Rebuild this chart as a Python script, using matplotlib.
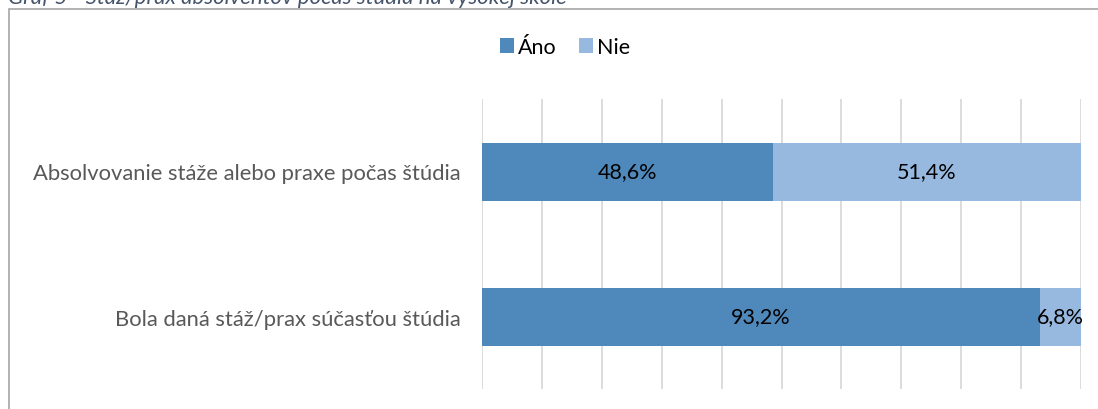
import matplotlib
matplotlib.use("Agg")
import matplotlib.pyplot as plt
from matplotlib.patches import Rectangle
import numpy as np

categories = ["Absolvovanie stáže alebo praxe počas štúdia", "Bola daná stáž/prax súčasťou štúdia"]
ano = [48.6, 93.2]
nie = [51.4, 6.8]
series_names = ["Áno", "Nie"]
caption = "Graf 5 - Stáž/prax absolventov počas štúdia na vysokej škole"

c_ano = "#4f88bb"
c_nie = "#97b9df"

plt.rcParams['font.family'] = ['Lato', 'DejaVu Sans']

W, H = 1098, 410
fig = plt.figure(figsize=(W/100, H/100), dpi=100)

# chart frame
fig.patches.append(Rectangle((9/W, -0.1), 1.2, 1 - 10/H + 0.1, transform=fig.transFigure,
                             facecolor="white", edgecolor="#a6a6a6", linewidth=1.2, zorder=-5))
fig.text(8/W, 1 - 4/H, caption, transform=fig.transFigure, fontsize=16, style='italic',
         color="#44546a", va='baseline', ha='left')

ax = fig.add_axes([482/W, 1 - 390/H, (1081-482)/W, (390-100)/H])
ax.set_zorder(2)
ax.set_facecolor('none')
y = np.arange(len(categories))
b1 = ax.barh(y, ano, height=0.4, color=c_ano, label=series_names[0], zorder=2)
b2 = ax.barh(y, nie, left=ano, height=0.4, color=c_nie, label=series_names[1], zorder=2)

for i in range(len(categories)):
    ax.text(ano[i]/2, y[i], f"{ano[i]:.1f}%".replace('.', ','), ha='center', va='center',
            fontsize=15.5, color='#000000', zorder=3)
    ax.text(ano[i] + nie[i]/2, y[i], f"{nie[i]:.1f}%".replace('.', ','), ha='center', va='center',
            fontsize=15.5, color='#000000', zorder=3)

ax.set_xlim(0, 100)
ax.set_ylim(len(categories) - 0.5, -0.5)
ax.set_xticks(np.arange(0, 101, 10))
ax.xaxis.grid(True, color="#d9d9d9", linewidth=1.3, zorder=0)
ax.set_axisbelow(True)
ax.tick_params(axis='x', length=0, labelbottom=False)
ax.tick_params(axis='y', length=0, pad=15.5, labelsize=15.8, labelcolor="#595959")
ax.set_yticks(y)
ax.set_yticklabels(categories)
for s in ax.spines.values():
    s.set_visible(False)

leg = fig.legend(handles=[b1, b2], labels=series_names, loc='center', bbox_to_anchor=(565/W, 1 - 48/H),
                 ncol=2, frameon=False, fontsize=15.5, handlelength=0.65, handleheight=0.65,
                 handletextpad=0.2, columnspacing=1.0)

fig.savefig("out.png", dpi=100)
